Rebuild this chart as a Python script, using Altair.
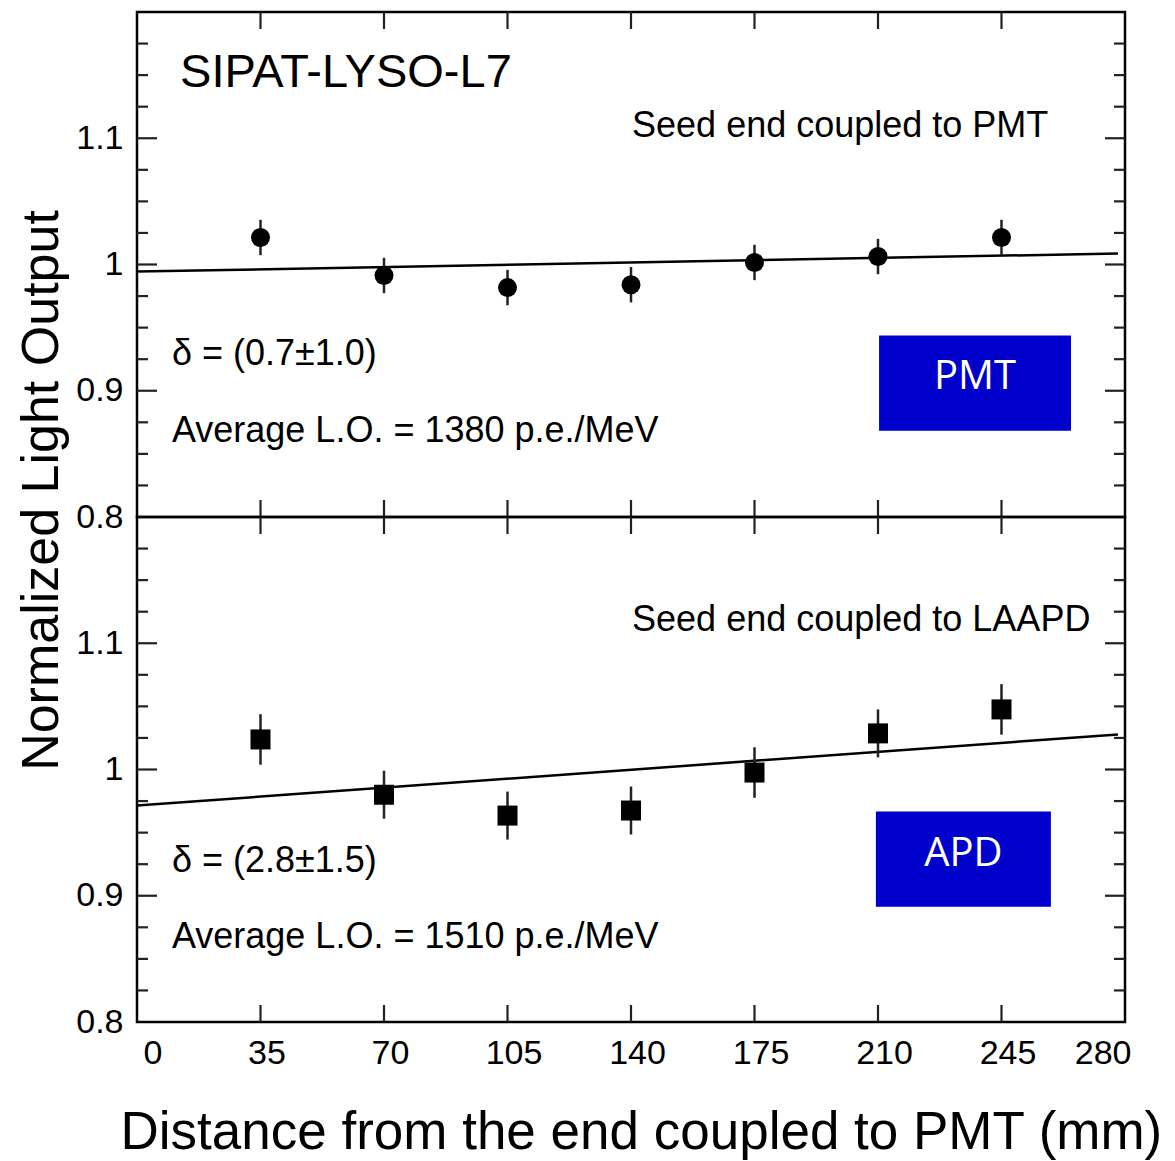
import altair as alt
import pandas as pd

# ---- data ----
positions = [35, 70, 105, 140, 175, 210, 245]
pmt_values = [1.0214, 0.9913, 0.9817, 0.9840, 1.0016, 1.0063, 1.0214]
pmt_errors = [0.014, 0.014, 0.014, 0.014, 0.014, 0.014, 0.014]
apd_values = [1.0238, 0.9800, 0.9635, 0.9675, 0.9976, 1.0286, 1.0476]
apd_errors = [0.020, 0.019, 0.019, 0.019, 0.020, 0.019, 0.020]
fit_x = [0, 278]
pmt_fit = [0.9944, 1.0087]
apd_fit = [0.9714, 1.0278]

x_label_values = [0, 35, 70, 105, 140, 175, 210, 245, 280]
x_tick_values = [35, 70, 105, 140, 175, 210, 245]
y_label_values = [0.8, 0.9, 1.0, 1.1]
y_major_ticks = [0.9, 1.0, 1.1]
y_minor_ticks = [0.825, 0.85, 0.875, 0.925, 0.95, 0.975,
                 1.025, 1.05, 1.075, 1.125, 1.15, 1.175]

# annotation boxes (data coordinates)
pmt_box = {"x": [210.3], "x2": [264.7], "y": [0.8683], "y2": [0.9437]}
apd_box = {"x": [209.4], "x2": [259.0], "y": [0.8913], "y2": [0.9667]}

W, H = 988, 505
FONT = "Liberation Sans"
XDOM = [0, 280]
YDOM = [0.8, 1.2]


def make_panel(values, errors, fit, shape, seed_text, delta_text, lo_text,
               box, box_text, box_text_pos, show_x, y_title):
    if show_x:
        xaxis = alt.Axis(values=x_label_values, ticks=False, domain=False, grid=False,
                         labelFont=FONT, labelFontSize=34, labelColor="black",
                         labelPadding=14, labelOffset=6,
                         title="Distance from the end coupled to PMT (mm)",
                         titleFont=FONT, titleFontSize=53, titleFontWeight="normal",
                         titleColor="black", titleAlign="left", titleX=-17,
                         titleY=126, titleBaseline="alphabetic")
    else:
        xaxis = None
    if y_title:
        yaxis = alt.Axis(values=y_label_values, format="~g", ticks=False, domain=False,
                         grid=False, labelFont=FONT, labelFontSize=34,
                         labelColor="black", labelPadding=14,
                         title=y_title, titleFont=FONT, titleFontSize=52,
                         titleFontWeight="normal", titleColor="black",
                         titleAngle=270, titleX=-80, titleY=478,
                         titleAlign="center", titleBaseline="alphabetic")
    else:
        yaxis = alt.Axis(values=y_label_values, format="~g", ticks=False, domain=False,
                         grid=False, labelFont=FONT, labelFontSize=34,
                         labelColor="black", labelPadding=14, title=None)

    def X(f):
        return alt.X(f, type="quantitative", scale=alt.Scale(domain=XDOM, nice=False, zero=False), axis=xaxis)

    def Y(f):
        return alt.Y(f, type="quantitative", scale=alt.Scale(domain=YDOM, nice=False, zero=False), axis=yaxis)

    pts = pd.DataFrame({"x": positions, "y": values,
                        "lo": [v - e for v, e in zip(values, errors)],
                        "hi": [v + e for v, e in zip(values, errors)]})
    fitdf = pd.DataFrame({"x": fit_x, "y": fit})
    boxdf = pd.DataFrame(box)

    rect = alt.Chart(boxdf).mark_rect(color="#0000CC").encode(
        x=X("x"), x2="x2", y=Y("y"), y2="y2")
    boxlab = alt.Chart(pd.DataFrame({"x": [box_text_pos[0]], "y": [box_text_pos[1]],
                                     "t": [box_text]})).mark_text(
        font="Open Sans", fontSize=40, color="white", align="center",
        baseline="alphabetic").encode(x=X("x"), y=Y("y"), text="t")

    line = alt.Chart(fitdf).mark_line(color="black", strokeWidth=2.5).encode(
        x=X("x"), y=Y("y"))
    err = alt.Chart(pts).mark_rule(color="#222222", strokeWidth=2.5).encode(
        x=X("x"), y=Y("lo"), y2="hi")
    dots = alt.Chart(pts).mark_point(shape=shape, filled=True, opacity=1,
                                     color="black",
                                     size=361 if shape == "circle" else 400).encode(
        x=X("x"), y=Y("y"))

    seed = alt.Chart(pd.DataFrame({"x": [140.3], "y": [seed_text[1]],
                                   "t": [seed_text[0]]})).mark_text(
        font=FONT, fontSize=36, color="black", align="left",
        baseline="alphabetic").encode(x=X("x"), y=Y("y"), text="t")
    notes = alt.Chart(pd.DataFrame({"x": [9.9, 9.9],
                                    "y": [delta_text[1], lo_text[1]],
                                    "t": [delta_text[0], lo_text[0]]})).mark_text(
        font=FONT, fontSize=36, color="black", align="left",
        baseline="alphabetic").encode(x=X("x"), y=Y("y"), text="t")

    xt = pd.DataFrame({"x": x_tick_values})
    ymaj = pd.DataFrame({"y": y_major_ticks})
    ymin = pd.DataFrame({"y": y_minor_ticks})
    tick_style = dict(color="#222222", strokeWidth=2.2)
    t_top = alt.Chart(xt).mark_rule(**tick_style).encode(
        x=X("x"), y=alt.value(0), y2=alt.value(17))
    t_bot = alt.Chart(xt).mark_rule(**tick_style).encode(
        x=X("x"), y=alt.value(H - 17), y2=alt.value(H))
    t_lmaj = alt.Chart(ymaj).mark_rule(**tick_style).encode(
        y=Y("y"), x=alt.value(0), x2=alt.value(20))
    t_lmin = alt.Chart(ymin).mark_rule(**tick_style).encode(
        y=Y("y"), x=alt.value(0), x2=alt.value(11))
    t_rmaj = alt.Chart(ymaj).mark_rule(**tick_style).encode(
        y=Y("y"), x=alt.value(W - 20), x2=alt.value(W))
    t_rmin = alt.Chart(ymin).mark_rule(**tick_style).encode(
        y=Y("y"), x=alt.value(W - 11), x2=alt.value(W))

    layers = [rect, boxlab, line, err, dots, seed, notes,
              t_top, t_bot, t_lmaj, t_lmin, t_rmaj, t_rmin]
    if y_title:
        title = alt.Chart(pd.DataFrame({"x": [12.2], "y": [1.1405],
                                        "t": ["SIPAT-LYSO-L7"]})).mark_text(
            font=FONT, fontSize=47, color="black", align="left",
            baseline="alphabetic").encode(x=X("x"), y=Y("y"), text="t")
        layers.append(title)
    return alt.layer(*layers).properties(width=W, height=H)


top = make_panel(pmt_values, pmt_errors, pmt_fit, "circle",
                 ("Seed end coupled to PMT", 1.1008),
                 ("δ = (0.7±1.0)", 0.9206),
                 ("Average L.O. = 1380 p.e./MeV", 0.8595),
                 pmt_box, "PMT", (237.5, 0.9016), False,
                 "Normalized Light Output")
bottom = make_panel(apd_values, apd_errors, apd_fit, "square",
                    ("Seed end coupled to LAAPD", 1.1095),
                    ("δ = (2.8±1.5)", 0.9190),
                    ("Average L.O. = 1510 p.e./MeV", 0.8587),
                    apd_box, "APD", (234.2, 0.9238), True, None)

chart = alt.vconcat(top, bottom, spacing=0, bounds="flush").properties(
    padding={"left": 13, "top": 9, "right": 0, "bottom": 0},
    background="white",
).configure_view(stroke="black", strokeWidth=2.5)

chart.save("out.html", embed_options={"renderer": "svg", "actions": False})
